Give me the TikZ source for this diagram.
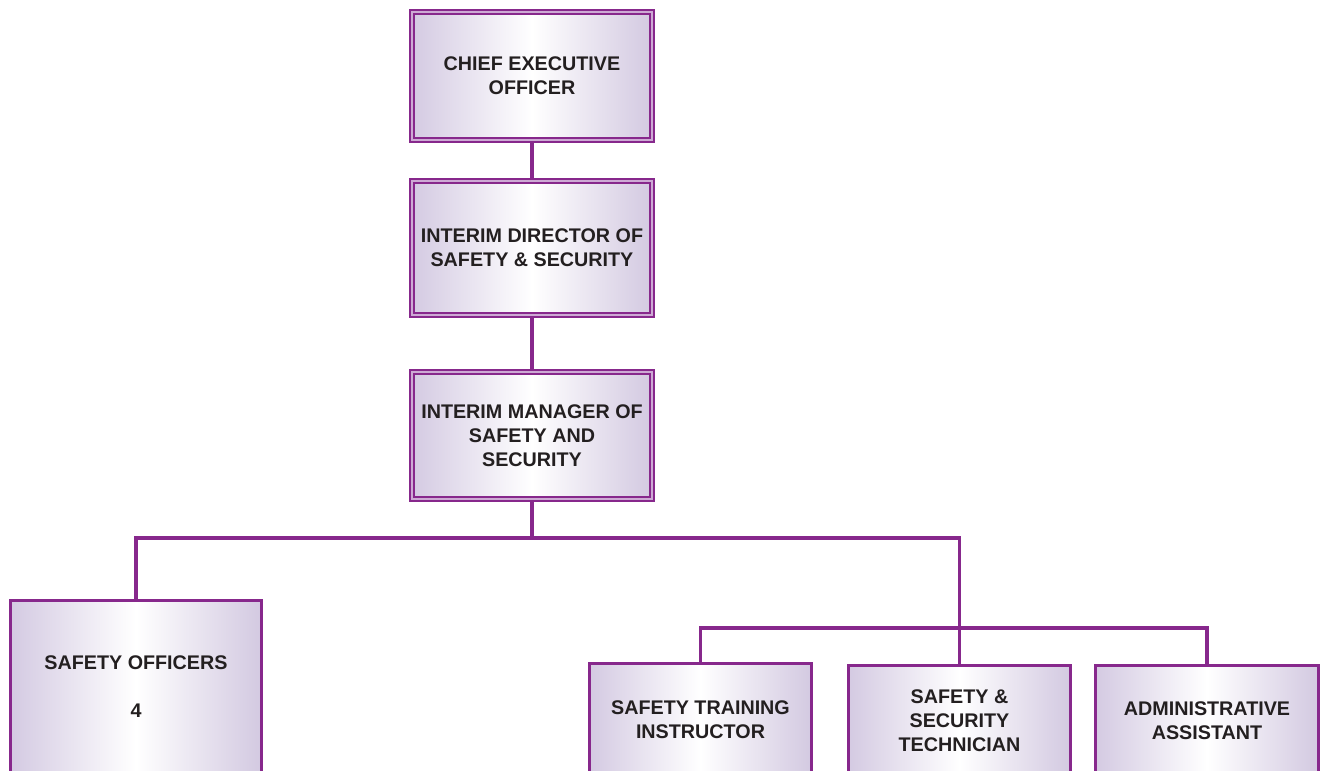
\documentclass[tikz,border=0pt]{standalone}
\usepackage{fontspec}
\setmainfont{Liberation Sans}
\definecolor{orgline}{RGB}{135,40,140}
\definecolor{orgframe}{RGB}{205,170,212}
\definecolor{orgfill}{RGB}{212,202,226}
\definecolor{orgtext}{RGB}{35,31,32}
\tikzset{
  box/.style={rectangle, draw=orgline, line width=2.6pt, shade,
    left color=orgfill, right color=orgfill!95!black!10!orgfill, middle color=white,
    align=center, text=orgtext, inner sep=0pt,
    font=\fontsize{14.8pt}{18pt}\selectfont\bfseries},
  topbox/.style={box, line width=2pt, double=orgframe, double distance=1.1pt,
    minimum width=180pt},
  link/.style={draw=orgline, line width=2.6pt}
}
\begin{document}
\begin{tikzpicture}[x=0.75pt, y=-0.75pt]
\useasboundingbox (0,0) rectangle (1322,771);
\clip (0,0) rectangle (1322,771);

% executive chain
\node[topbox, minimum height=96pt] (ceo) at (532,76) {CHIEF EXECUTIVE\\OFFICER};
\node[topbox, minimum height=100.5pt] (dir) at (532,248) {INTERIM DIRECTOR OF\\SAFETY \& SECURITY};
\node[topbox, minimum height=95.25pt] (mgr) at (532,435.5) {INTERIM MANAGER OF\\SAFETY AND\\SECURITY};

% staff boxes (run past the lower edge)
\node[box, anchor=north, minimum width=188.25pt, minimum height=129.5pt] (off) at (136,598.5) {SAFETY OFFICERS\\[18pt]4};
\node[box, anchor=north, minimum width=166.5pt, minimum height=84pt] (train) at (700.5,661.5) {SAFETY TRAINING\\INSTRUCTOR};
\node[box, anchor=north, minimum width=166.5pt, minimum height=82.5pt] (tech) at (959.5,663.5) {SAFETY \&\\SECURITY\\TECHNICIAN};
\node[box, anchor=north, minimum width=167.25pt, minimum height=82.5pt] (adm) at (1207,663.5) {ADMINISTRATIVE\\ASSISTANT};

% reporting lines
\coordinate (bus1) at (532,538);
\coordinate (bus2) at (960,628);
\draw[link] (ceo) -- (dir);
\draw[link] (dir) -- (mgr);
\draw[link] (mgr.south) -- (bus1);
\draw[link] (off.north) |- (bus1) -| (tech.north);
\draw[link] (train.north) |- (bus2) -| (adm.north);
\end{tikzpicture}
\end{document}
